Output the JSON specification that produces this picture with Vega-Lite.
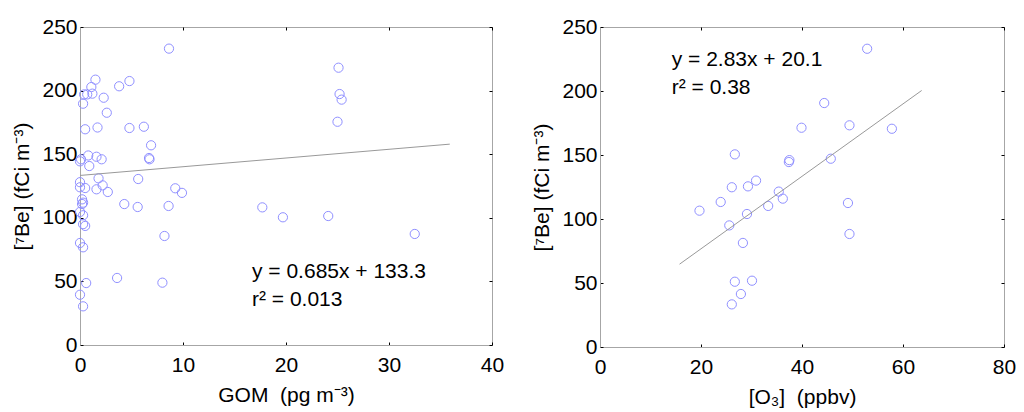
{
  "$schema": "https://vega.github.io/schema/vega-lite/v6.json",
  "background": "white",
  "padding": {"left": 11, "top": 15, "right": 10, "bottom": 2},
  "datasets": {
    "gom": [
      {"GOM": 8.64, "Be7": 233}, {"GOM": 1.5, "Be7": 208.6}, {"GOM": 3.8, "Be7": 203.4}, {"GOM": 4.8, "Be7": 207.5},
      {"GOM": 1.1, "Be7": 202.8}, {"GOM": 0.4, "Be7": 197}, {"GOM": 0.7, "Be7": 197}, {"GOM": 1.2, "Be7": 197.6},
      {"GOM": 2.3, "Be7": 194.4}, {"GOM": 0.3, "Be7": 189.7}, {"GOM": 2.6, "Be7": 182.6}, {"GOM": 0.5, "Be7": 169.6},
      {"GOM": 1.7, "Be7": 171}, {"GOM": 4.8, "Be7": 170.6}, {"GOM": 6.2, "Be7": 171.6}, {"GOM": 6.9, "Be7": 157},
      {"GOM": 6.7, "Be7": 147}, {"GOM": 6.75, "Be7": 146}, {"GOM": 0, "Be7": 144.4}, {"GOM": 0.1, "Be7": 146},
      {"GOM": 0.8, "Be7": 149}, {"GOM": 1.6, "Be7": 148}, {"GOM": 2.1, "Be7": 146}, {"GOM": 0.9, "Be7": 140.7},
      {"GOM": 1.8, "Be7": 131}, {"GOM": 5.65, "Be7": 130.5}, {"GOM": 0, "Be7": 128}, {"GOM": 0, "Be7": 124},
      {"GOM": 0.5, "Be7": 123.4}, {"GOM": 2.2, "Be7": 125.5}, {"GOM": 1.6, "Be7": 122.4}, {"GOM": 2.7, "Be7": 120.3},
      {"GOM": 4.3, "Be7": 110.8}, {"GOM": 5.6, "Be7": 108.5}, {"GOM": 8.6, "Be7": 109.3}, {"GOM": 9.25, "Be7": 123.2},
      {"GOM": 9.9, "Be7": 119.6}, {"GOM": 0.2, "Be7": 114.5}, {"GOM": 0.3, "Be7": 111.9}, {"GOM": 0.2, "Be7": 110.8},
      {"GOM": 0, "Be7": 104.6}, {"GOM": 0.3, "Be7": 102}, {"GOM": 0.3, "Be7": 95}, {"GOM": 0.5, "Be7": 93.6},
      {"GOM": 0, "Be7": 80.2}, {"GOM": 0.3, "Be7": 76.8}, {"GOM": 8.2, "Be7": 85.7}, {"GOM": 0.6, "Be7": 48.7},
      {"GOM": 3.6, "Be7": 52.7}, {"GOM": 8.0, "Be7": 49}, {"GOM": 0, "Be7": 39.5}, {"GOM": 0.3, "Be7": 30.4},
      {"GOM": 25.1, "Be7": 218}, {"GOM": 25.2, "Be7": 197.3}, {"GOM": 25.4, "Be7": 192.9}, {"GOM": 25.0, "Be7": 175.5},
      {"GOM": 17.7, "Be7": 108.2}, {"GOM": 19.7, "Be7": 100.4}, {"GOM": 24.1, "Be7": 101.4}, {"GOM": 32.5, "Be7": 87.3}
    ],
    "o3": [
      {"O3": 52.9, "Be7": 233}, {"O3": 44.4, "Be7": 190.6}, {"O3": 39.9, "Be7": 171.3}, {"O3": 49.4, "Be7": 173.2},
      {"O3": 57.8, "Be7": 170.5}, {"O3": 26.7, "Be7": 150.5}, {"O3": 37.5, "Be7": 146}, {"O3": 37.4, "Be7": 144.5},
      {"O3": 45.7, "Be7": 147.1}, {"O3": 30.9, "Be7": 130}, {"O3": 26.1, "Be7": 124.8}, {"O3": 29.3, "Be7": 125.5},
      {"O3": 35.4, "Be7": 121.4}, {"O3": 36.2, "Be7": 115.9}, {"O3": 23.9, "Be7": 113.3}, {"O3": 19.7, "Be7": 106.5},
      {"O3": 33.3, "Be7": 110.2}, {"O3": 49.1, "Be7": 112.5}, {"O3": 29.1, "Be7": 103.9}, {"O3": 25.6, "Be7": 95},
      {"O3": 49.4, "Be7": 88.3}, {"O3": 28.3, "Be7": 81.3}, {"O3": 26.7, "Be7": 51}, {"O3": 30.1, "Be7": 51.8},
      {"O3": 27.9, "Be7": 41.4}, {"O3": 26.1, "Be7": 33.3}
    ],
    "fitGom": [{"GOM": 0, "Be7": 133.3}, {"GOM": 35.9, "Be7": 157.9}],
    "fitO3": [{"O3": 15.75, "Be7": 64.7}, {"O3": 63.7, "Be7": 200.4}]
  },
  "config": {
    "font": "Liberation Sans",
    "view": {"stroke": "#a6a6a6", "strokeWidth": 1},
    "axis": {
      "grid": false,
      "domainColor": "#a6a6a6",
      "tickColor": "#000000",
      "tickSize": -3,
      "labelFontSize": 21,
      "titleFontSize": 21,
      "labelColor": "#000000",
      "titleColor": "#000000",
      "titleFontWeight": "normal",
      "labelFont": "Liberation Sans",
      "titleFont": "Liberation Sans"
    }
  },
  "spacing": 108,
  "bounds": "flush",
  "hconcat": [
    {
      "width": 412,
      "height": 318,
      "layer": [
        {
          "data": {"name": "gom"},
          "mark": {"type": "point", "shape": "circle", "filled": false, "color": "#9090ff", "size": 85, "strokeWidth": 1, "opacity": 1},
          "encoding": {
            "x": {"field": "GOM", "type": "quantitative", "scale": {"domain": [0, 40], "nice": false},
                  "axis": {"values": [0, 10, 20, 30, 40], "title": "GOM\u00a0 (pg m⁻³)", "labelPadding": 12, "titlePadding": 9, "labelFlush": false}},
            "y": {"field": "Be7", "type": "quantitative", "scale": {"domain": [0, 250], "nice": false},
                  "axis": {"values": [0, 50, 100, 150, 200, 250], "title": "[⁷Be] (fCi m⁻³)", "labelPadding": 6, "titlePadding": 9, "labelFlush": false}}
          }
        },
        {
          "data": {"name": "fitGom"},
          "mark": {"type": "line", "color": "#999999", "strokeWidth": 1},
          "encoding": {
            "x": {"field": "GOM", "type": "quantitative", "axis": {"orient": "top", "labels": false, "title": null, "domain": false, "values": [0, 10, 20, 30, 40]}},
            "y": {"field": "Be7", "type": "quantitative", "axis": {"orient": "right", "labels": false, "title": null, "domain": false, "values": [0, 50, 100, 150, 200, 250]}}
          }
        },
        {
          "data": {"values": [{}]},
          "mark": {"type": "text", "align": "left", "baseline": "alphabetic", "fontSize": 21, "lineHeight": 28, "color": "#000000"},
          "encoding": {
            "x": {"datum": 16.7, "type": "quantitative", "axis": null},
            "y": {"datum": 52.7, "type": "quantitative", "axis": null},
            "text": {"value": ["y = 0.685x + 133.3", "r² = 0.013"]}
          }
        }
      ],
      "resolve": {"axis": {"x": "independent", "y": "independent"}}
    },
    {
      "width": 404,
      "height": 320,
      "layer": [
        {
          "data": {"name": "o3"},
          "mark": {"type": "point", "shape": "circle", "filled": false, "color": "#9090ff", "size": 85, "strokeWidth": 1, "opacity": 1},
          "encoding": {
            "x": {"field": "O3", "type": "quantitative", "scale": {"domain": [0, 80], "nice": false},
                  "axis": {"values": [0, 20, 40, 60, 80], "title": "[O₃]\u00a0 (ppbv)", "labelPadding": 12, "titlePadding": 9, "labelFlush": false}},
            "y": {"field": "Be7", "type": "quantitative", "scale": {"domain": [0, 250], "nice": false},
                  "axis": {"values": [0, 50, 100, 150, 200, 250], "title": "[⁷Be] (fCi m⁻³)", "labelPadding": 6, "titlePadding": 9, "labelFlush": false}}
          }
        },
        {
          "data": {"name": "fitO3"},
          "mark": {"type": "line", "color": "#999999", "strokeWidth": 1},
          "encoding": {
            "x": {"field": "O3", "type": "quantitative", "axis": {"orient": "top", "labels": false, "title": null, "domain": false, "values": [0, 20, 40, 60, 80]}},
            "y": {"field": "Be7", "type": "quantitative", "axis": {"orient": "right", "labels": false, "title": null, "domain": false, "values": [0, 50, 100, 150, 200, 250]}}
          }
        },
        {
          "data": {"values": [{}]},
          "mark": {"type": "text", "align": "left", "baseline": "alphabetic", "fontSize": 21, "lineHeight": 28, "color": "#000000"},
          "encoding": {
            "x": {"datum": 14.2, "type": "quantitative", "axis": null},
            "y": {"datum": 219.3, "type": "quantitative", "axis": null},
            "text": {"value": ["y = 2.83x + 20.1", "r² = 0.38"]}
          }
        }
      ],
      "resolve": {"axis": {"x": "independent", "y": "independent"}}
    }
  ]
}
